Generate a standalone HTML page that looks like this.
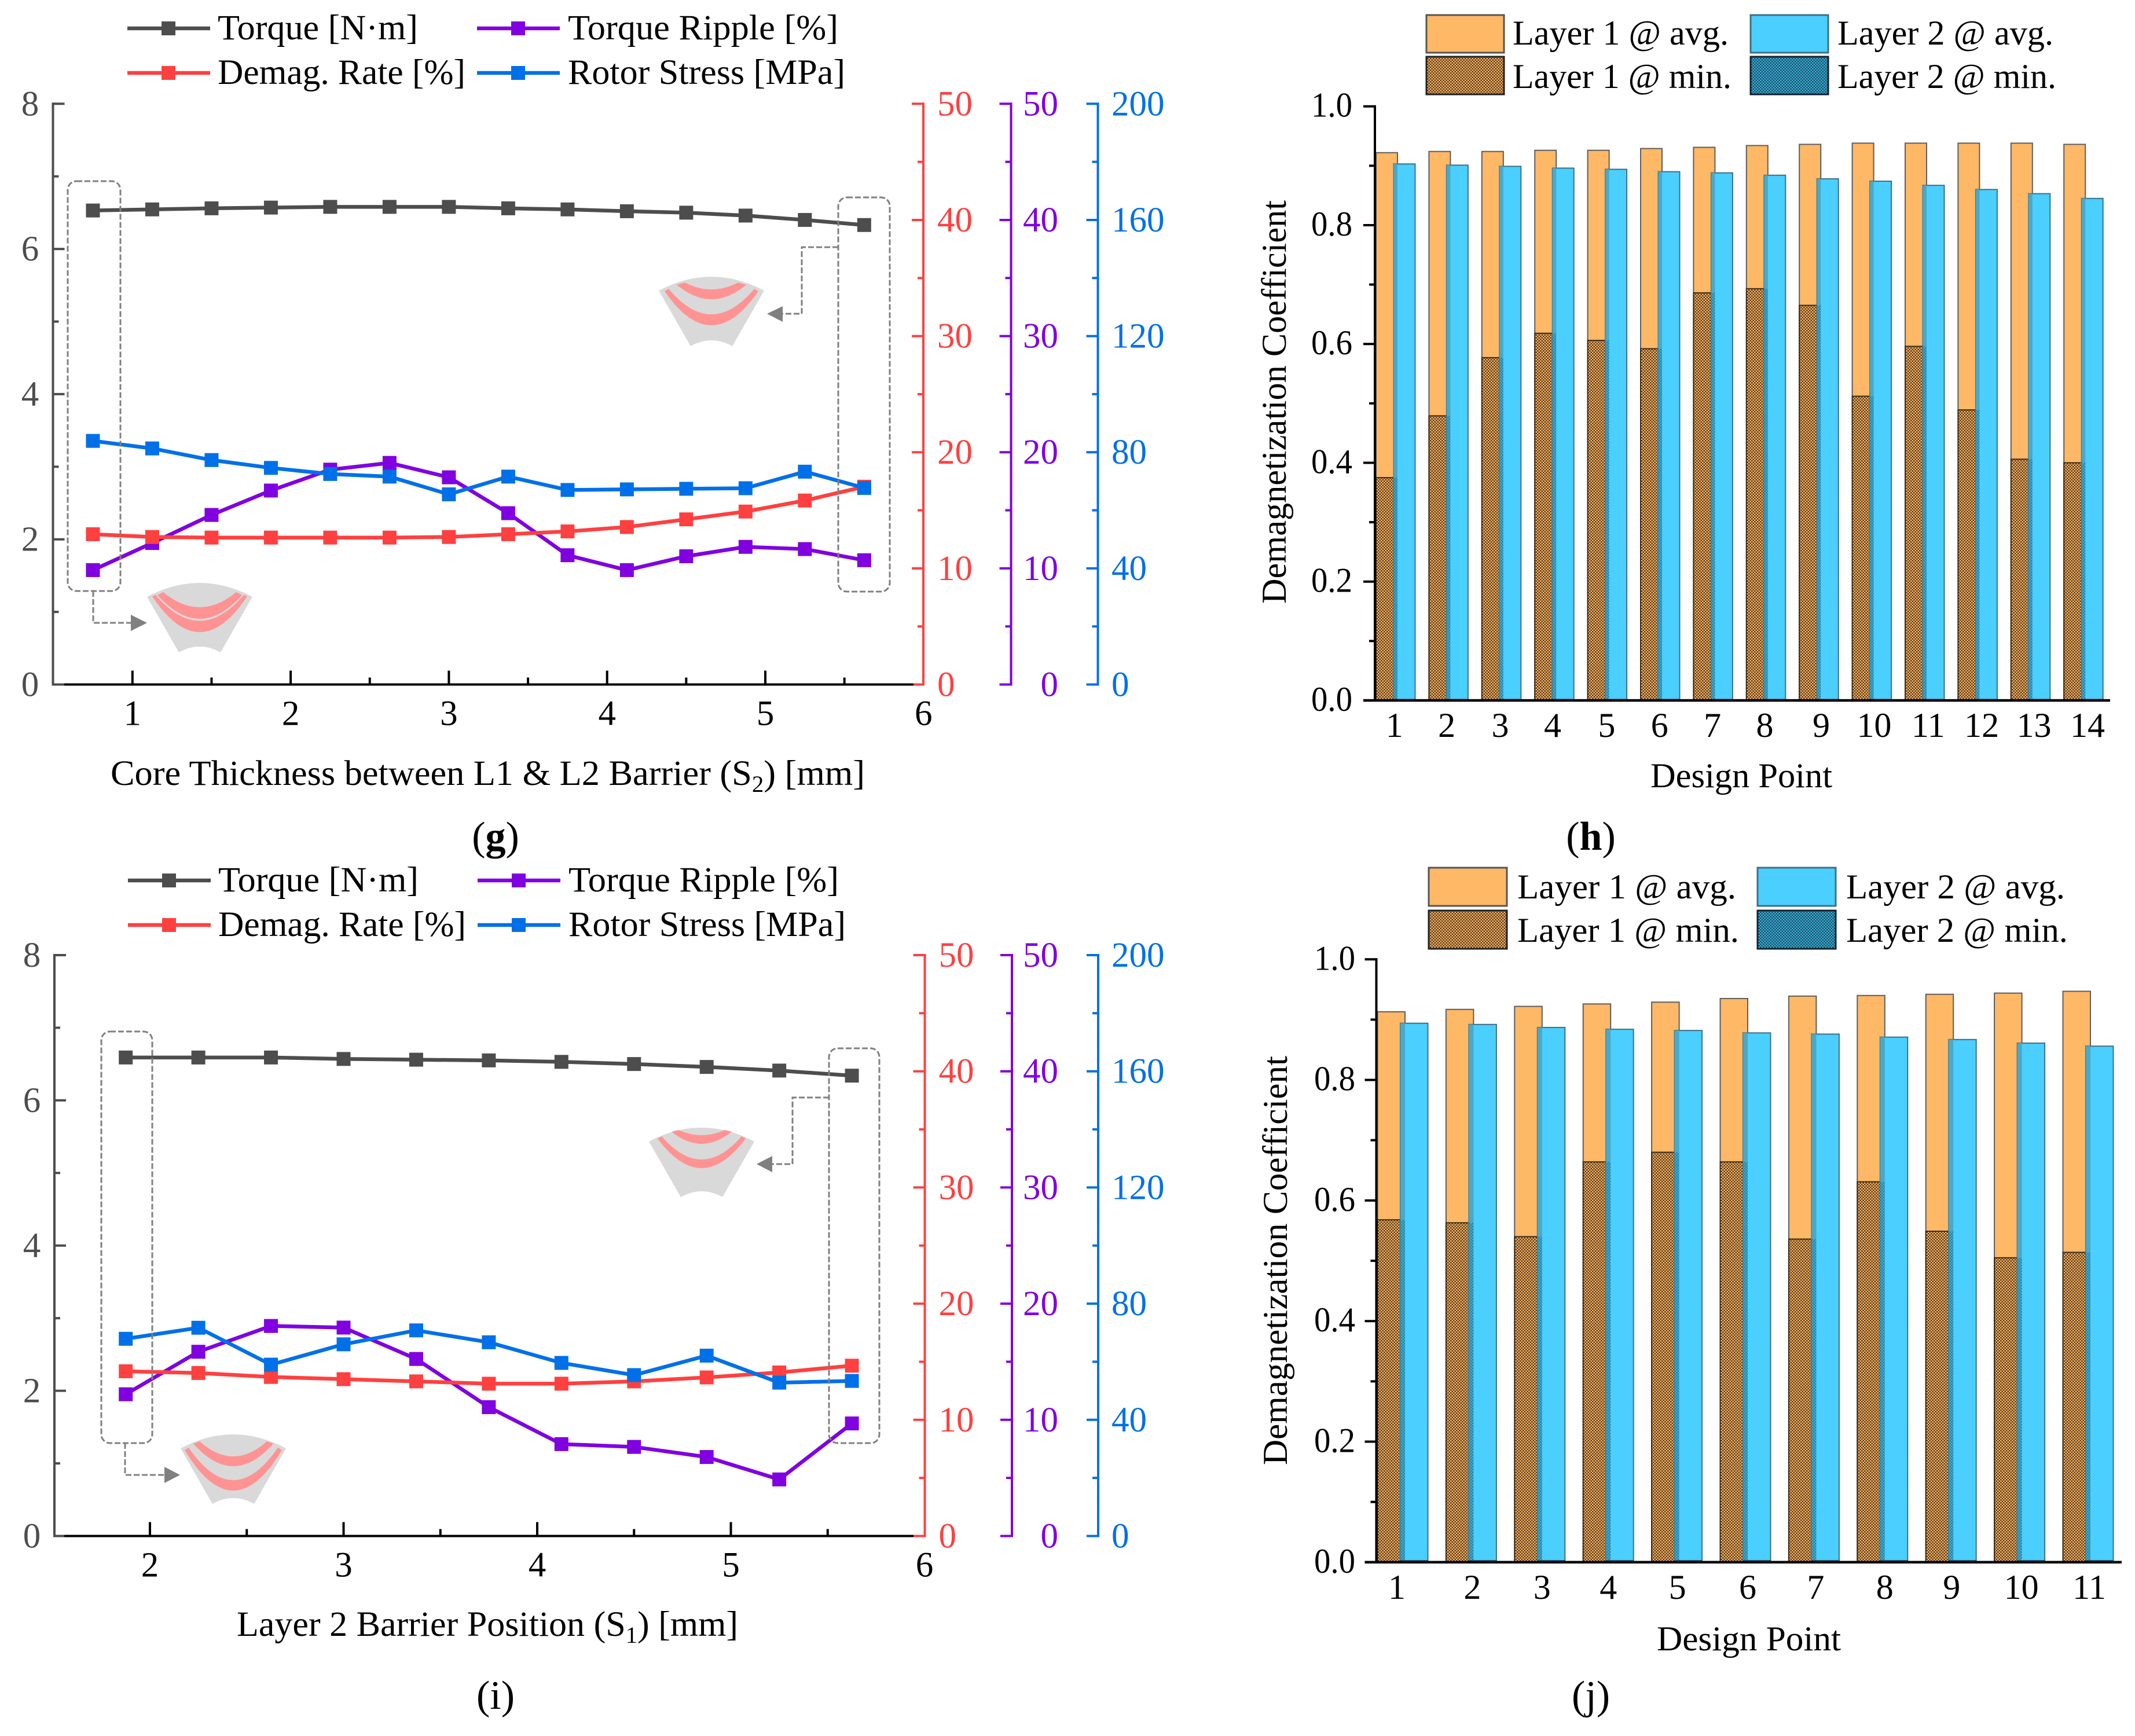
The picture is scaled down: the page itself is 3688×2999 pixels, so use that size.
<!DOCTYPE html>
<html lang="en">
<head>
<meta charset="utf-8">
<title>Demagnetization charts</title>
<style>
html,body{margin:0;padding:0;background:#fff;}
svg{display:block;}
text{font-family:"Liberation Serif",serif;fill:#000;}
</style>
</head>
<body>
<svg id="figure" xmlns="http://www.w3.org/2000/svg" width="3688" height="2999" viewBox="0 0 3688 2999">
  <defs>
    <pattern id="brown-check" width="5" height="5" patternUnits="userSpaceOnUse">
      <rect width="5" height="5" fill="#ffb866"/>
      <rect width="2.5" height="2.5" fill="#54391a"/>
      <rect x="2.5" y="2.5" width="2.5" height="2.5" fill="#54391a"/>
    </pattern>
    <pattern id="blue-check" width="5" height="5" patternUnits="userSpaceOnUse">
      <rect width="5" height="5" fill="#3cb4dc"/>
      <rect width="2.5" height="2.5" fill="#174a60"/>
      <rect x="2.5" y="2.5" width="2.5" height="2.5" fill="#174a60"/>
    </pattern>
    <pattern id="overlap-check" width="5" height="5" patternUnits="userSpaceOnUse">
      <rect width="5" height="5" fill="#3fb0d6"/>
      <rect width="2.5" height="2.5" fill="#2a7f9e"/>
      <rect x="2.5" y="2.5" width="2.5" height="2.5" fill="#2a7f9e"/>
    </pattern>
  </defs>

  <g id="chart-g"></g>
  <g id="chart-i"></g>
  <g id="chart-h"></g>
  <g id="chart-j"></g>

  <!-- annotations panel g -->
  <g fill="none" stroke="#808080" stroke-width="3" stroke-dasharray="10 4">
    <rect x="117" y="313" width="91" height="708" rx="15"/>
    <rect x="1448" y="341" width="89" height="681" rx="15"/>
    <polyline points="161,1021 161,1076 228,1076"/>
    <polyline points="1448,427 1385,427 1385,542 1350,542"/>
  </g>
  <polygon points="226,1062 254,1076 226,1090" fill="#808080"/>
  <polygon points="1352,529 1325,542 1352,556" fill="#808080"/>
  <g transform="translate(345 1007)">
    <path d="M-91 24Q0 -24 91 24L36 120Q0 100 -36 120Z" fill="#d9d9d9"/>
    <path d="M-73 21L-63 16Q0 68 63 16L73 21Q0 103 -73 21Z" fill="#ff9393"/>
    <path d="M-82 23L-76 21Q0 110 76 21L82 23Q0 147 -82 23Z" fill="#ff9393"/>
  </g>
  <g transform="translate(1229 478)">
    <path d="M-91 24Q0 -24 91 24L36 120Q0 100 -36 120Z" fill="#d9d9d9"/>
    <path d="M-60 14L-46 10Q0 34 46 10L60 14Q0 64 -60 14Z" fill="#ff9393"/>
    <path d="M-81 25L-74 21Q0 109 74 21L81 25Q0 143 -81 25Z" fill="#ff9393"/>
  </g>

  <!-- annotations panel i -->
  <g fill="none" stroke="#808080" stroke-width="3" stroke-dasharray="10 4">
    <rect x="175" y="1782" width="88" height="711" rx="15"/>
    <rect x="1432" y="1811" width="87" height="682" rx="15"/>
    <polyline points="216,2493 216,2548 286,2548"/>
    <polyline points="1432,1896 1369,1896 1369,2011 1332,2011"/>
  </g>
  <polygon points="284,2534 311,2548 284,2562" fill="#808080"/>
  <polygon points="1334,1997 1307,2011 1334,2025" fill="#808080"/>
  <g transform="translate(403 2478)">
    <path d="M-91 24Q0 -24 91 24L36 120Q0 100 -36 120Z" fill="#d9d9d9"/>
    <path d="M-69 16L-58 12Q0 64 58 12L69 16Q0 94 -69 16Z" fill="#ff9393"/>
    <path d="M-84 27L-77 23Q0 135 77 23L84 27Q0 167 -84 27Z" fill="#ff9393"/>
  </g>
  <g transform="translate(1212 1948)">
    <path d="M-91 24Q0 -24 91 24L36 120Q0 100 -36 120Z" fill="#d9d9d9"/>
    <path d="M-52 7L-40 4Q0 22 40 4L52 7Q0 49 -52 7Z" fill="#ff9393"/>
    <path d="M-76 19L-69 15Q0 95 69 15L76 19Q0 121 -76 19Z" fill="#ff9393"/>
  </g>

  <!-- axis titles and panel labels -->
  <text x="191" y="1356" font-size="61" textLength="1303" lengthAdjust="spacingAndGlyphs">Core Thickness between L1 &amp; L2 Barrier (S<tspan font-size="40" dy="12">2</tspan><tspan dy="-12">) [mm]</tspan></text>
  <text x="856" y="1468" font-size="70" text-anchor="middle">(<tspan font-weight="bold">g</tspan>)</text>
  <text x="409" y="2826" font-size="61" textLength="866" lengthAdjust="spacingAndGlyphs">Layer 2 Barrier Position (S<tspan font-size="40" dy="12">1</tspan><tspan dy="-12">) [mm]</tspan></text>
  <text x="856" y="2952" font-size="70" text-anchor="middle">(i)</text>
  <text transform="translate(2221 1043) rotate(-90)" font-size="60" textLength="697" lengthAdjust="spacingAndGlyphs">Demagnetization Coefficient</text>
  <text x="2851" y="1360" font-size="60" textLength="314" lengthAdjust="spacingAndGlyphs">Design Point</text>
  <text x="2748" y="1468" font-size="70" text-anchor="middle">(<tspan font-weight="bold">h</tspan>)</text>
  <text transform="translate(2223 2531) rotate(-90)" font-size="60" textLength="707" lengthAdjust="spacingAndGlyphs">Demagnetization Coefficient</text>
  <text x="2862" y="2851" font-size="60" textLength="318" lengthAdjust="spacingAndGlyphs">Design Point</text>
  <text x="2748" y="2952" font-size="70" text-anchor="middle">(j)</text>
</svg>

<script>
// ---------- shared tick labels ----------
const torqueTickLabels = ['0', '2', '4', '6', '8'];
const demagTickLabels = ['0', '10', '20', '30', '40', '50'];
const rippleTickLabels = ['0', '10', '20', '30', '40', '50'];
const stressTickLabels = ['0', '40', '80', '120', '160', '200'];
const coefficientTickLabels = ['0.0', '0.2', '0.4', '0.6', '0.8', '1.0'];

// ---------- panel g ----------
const gThickness = [0.75, 1.125, 1.5, 1.875, 2.25, 2.625, 3, 3.375, 3.75, 4.125, 4.5, 4.875, 5.25, 5.625];
const gTorque = [6.53, 6.545, 6.56, 6.57, 6.58, 6.58, 6.58, 6.56, 6.545, 6.52, 6.50, 6.46, 6.40, 6.33];
const gRipple = [9.85, 12.18, 14.6, 16.7, 18.5, 19.08, 17.84, 14.75, 11.13, 9.85, 11.04, 11.85, 11.66, 10.7];
const gDemag = [12.94, 12.7, 12.65, 12.65, 12.65, 12.65, 12.7, 12.94, 13.18, 13.56, 14.22, 14.89, 15.84, 17.03];
const gStress = [83.9, 81.3, 77.3, 74.6, 72.5, 71.6, 65.5, 71.6, 67, 67.2, 67.4, 67.6, 73.3, 67.7];
const gXTicks = ['1', '2', '3', '4', '5', '6'];

// ---------- panel i ----------
const iPosition = [1.875, 2.25, 2.625, 3, 3.375, 3.75, 4.125, 4.5, 4.875, 5.25, 5.625];
const iTorque = [6.59, 6.59, 6.59, 6.57, 6.56, 6.55, 6.53, 6.5, 6.46, 6.41, 6.34];
const iRipple = [12.2, 15.86, 18.08, 17.94, 15.24, 11.09, 7.91, 7.67, 6.8, 4.87, 9.69];
const iDemag = [14.18, 14.03, 13.69, 13.5, 13.31, 13.11, 13.11, 13.31, 13.65, 14.08, 14.66];
const iStress = [67.9, 71.7, 59, 66, 70.8, 66.7, 59.6, 55.4, 62.1, 52.8, 53.4];
const iXTicks = ['2', '3', '4', '5', '6'];

// ---------- panel h ----------
const hPoints = ['1', '2', '3', '4', '5', '6', '7', '8', '9', '10', '11', '12', '13', '14'];
const hLayer1Avg = [.922, .924, .924, .926, .926, .929, .931, .934, .936, .938, .938, .938, .938, .936];
const hLayer1Min = [.375, .479, .577, .618, .606, .592, .686, .693, .665, .512, .596, .489, .406, .400];
const hLayer2Avg = [.903, .901, .899, .896, .894, .890, .888, .884, .878, .874, .867, .860, .853, .845];
const hLayer2Min = [.002, .002, .002, .002, .002, .002, .002, .002, .002, .002, .002, .002, .002, .002];

// ---------- panel j ----------
const jPoints = ['1', '2', '3', '4', '5', '6', '7', '8', '9', '10', '11'];
const jLayer1Avg = [.913, .917, .922, .926, .929, .935, .939, .940, .942, .944, .947];
const jLayer1Min = [.568, .563, .540, .664, .680, .664, .536, .631, .549, .505, .514];
const jLayer2Avg = [.894, .892, .887, .884, .882, .878, .876, .871, .867, .861, .856];
const jLayer2Min = [.003, .003, .003, .003, .003, .003, .003, .003, .003, .003, .003];

// ---------- colours ----------
const GREY = '#4d4d4d', RED = '#ff4040', PURPLE = '#8000e0', BLUE = '#0070e8';
const NS = 'http://www.w3.org/2000/svg';

function mk(tag, attrs, parent, txt) {
  const el = document.createElementNS(NS, tag);
  for (const k in attrs) el.setAttribute(k, attrs[k]);
  if (txt !== undefined) el.textContent = txt;
  parent.appendChild(el);
  return el;
}

function verticalAxis(parent, key, cfg, labels) {
  const n = labels.length - 1;
  const axis = mk('line', {x1: cfg.x, x2: cfg.x, y1: cfg.yTop - 2, y2: cfg.yBottom + 2, stroke: cfg.color, 'stroke-width': 4}, parent);
  
  
  const steps = n * 2;
  for (let s = 0; s <= steps; s++) {
    const y = cfg.yBottom + (cfg.yTop - cfg.yBottom) * s / steps;
    const isMajor = s % 2 === 0;
    const len = isMajor ? 20 : 10;
    const tick = mk('line', {x1: cfg.x, x2: cfg.x + cfg.dir * len, y1: y, y2: y, stroke: cfg.color, 'stroke-width': 4}, parent);
    
    
    if (isMajor) {
      const attrs = {x: cfg.labelX, y: y + cfg.labelDy, 'font-size': cfg.fontSize, 'text-anchor': cfg.anchor, style: 'fill:' + cfg.color};
      if (cfg.textLength) { attrs.textLength = cfg.textLength; attrs.lengthAdjust = 'spacingAndGlyphs'; }
      const label = mk('text', attrs, parent, labels[s / 2]);
      
      
    }
  }
}

function lineSeries(parent, key, xs, ys, color, sx, sy) {
  const pts = xs.map((x, i) => sx(x) + ',' + sy(ys[i])).join(' ');
  const line = mk('polyline', {points: pts, fill: 'none', stroke: color, 'stroke-width': 6.5}, parent);
  
  
  xs.forEach((x, i) => {
    const m = mk('rect', {x: sx(x) - 12, y: sy(ys[i]) - 12, width: 24, height: 24, fill: color}, parent);
    
    
  });
}

function lineLegend(parent, yA, yB, dx) {
  const entries = [
    ['Torque [N·m]', GREY, 220, yA, 376, 346, 'legend-torque'],
    ['Demag. Rate [%]', RED, 220, yB, 376, 428, 'legend-demag-rate'],
    ['Torque Ripple [%]', PURPLE, 824, yA, 981, 467, 'legend-torque-ripple'],
    ['Rotor Stress [MPa]', BLUE, 824, yB, 981, 479, 'legend-rotor-stress']
  ];
  entries.forEach(e => {
    const l = mk('line', {x1: e[2] + dx, x2: e[2] + 143 + dx, y1: e[3], y2: e[3], stroke: e[1], 'stroke-width': 6.5}, parent);
    
    
    const m = mk('rect', {x: e[2] + 59 + dx, y: e[3] - 12, width: 24, height: 24, fill: e[1]}, parent);
    
    
    const t = mk('text', {x: e[4] + dx, y: e[3] + 19, 'font-size': 61, textLength: e[5], lengthAdjust: 'spacingAndGlyphs'}, parent, e[0]);
    
    
  });
}

function drawLineChart(id, c, xs, torque, ripple, demag, stress, xTicks, minX, key) {
  const g = document.getElementById(id);
  const sx = v => c.x1 + (v - minX) * c.xUnit;
  const yFor = max => v => c.y0 + (c.yTop - c.y0) * v / max;

  verticalAxis(g, key + '-torque', {x: c.leftX, yTop: c.yTop, yBottom: c.y0, color: GREY, dir: 1, anchor: 'middle', labelX: c.leftLabelX, fontSize: 61, labelDy: 20}, torqueTickLabels);
  verticalAxis(g, key + '-demag', {x: c.redX, yTop: c.yTop, yBottom: c.y0, color: RED, dir: -1, anchor: 'start', labelX: c.redX + 24, fontSize: 61, labelDy: 20}, demagTickLabels);
  verticalAxis(g, key + '-ripple', {x: c.purpleX, yTop: c.yTop, yBottom: c.y0, color: PURPLE, dir: -1, anchor: 'end', labelX: 1828, fontSize: 61, labelDy: 20}, rippleTickLabels);
  verticalAxis(g, key + '-stress', {x: c.blueX, yTop: c.yTop, yBottom: c.y0, color: BLUE, dir: -1, anchor: 'start', labelX: 1920, fontSize: 61, labelDy: 20}, stressTickLabels);

  const xAxis = mk('line', {x1: 111, x2: 1578, y1: c.y0, y2: c.y0, stroke: '#000', 'stroke-width': 4}, g);
  
  
  xTicks.forEach((lab, i) => {
    const v = Number(lab);
    if (i < xTicks.length - 1) {
      const t = mk('line', {x1: sx(v), x2: sx(v), y1: c.y0, y2: c.y0 - 24, stroke: '#000', 'stroke-width': 4}, g);
      
      
      const mt = mk('line', {x1: sx(v + 0.5), x2: sx(v + 0.5), y1: c.y0, y2: c.y0 - 12, stroke: '#000', 'stroke-width': 4}, g);
      
      
    }
    const tx = mk('text', {x: sx(v), y: c.y0 + 70, 'font-size': 61, 'text-anchor': 'middle'}, g, lab);
    
    
  });

  lineSeries(g, key + '-torque', xs, torque, GREY, sx, yFor(8));
  lineSeries(g, key + '-ripple', xs, ripple, PURPLE, sx, yFor(50));
  lineSeries(g, key + '-demag', xs, demag, RED, sx, yFor(50));
  lineSeries(g, key + '-stress', xs, stress, BLUE, sx, yFor(200));
  lineLegend(g, c.legendA, c.legendB, c.legendDx);
}

function swatch(parent, name, x, y, w, h, fill, stroke) {
  const s = mk('rect', {x: x, y: y, width: w, height: h, fill: fill, stroke: stroke, 'stroke-width': 3}, parent);
  
  
}

function drawBarChart(id, c, labels, avg1, min1, avg2, min2, key) {
  const g = document.getElementById(id);
  const sy = v => c.y0 + (c.yTop - c.y0) * v;

  labels.forEach((lab, i) => {
    const xA = c.x0 + i * c.step;
    const xB = xA + c.w - c.overlap;
    const oBar = mk('rect', {x: xA, y: sy(avg1[i]), width: c.w, height: c.y0 - sy(avg1[i]), fill: '#ffb866', stroke: '#5e5e5e', 'stroke-width': 2}, g);
    
    
    const mBar = mk('rect', {x: xA, y: sy(min1[i]), width: c.w, height: c.y0 - sy(min1[i]), fill: 'url(#brown-check)', stroke: '#3a2a14', 'stroke-width': 2}, g);
    
    
    const bBar = mk('rect', {x: xB, y: sy(avg2[i]), width: c.w, height: c.y0 - sy(avg2[i]), fill: '#4acfff', stroke: '#3f6f85', 'stroke-width': 2}, g);
    
    
    const lowAvg = Math.min(avg1[i], avg2[i]);
    const stripA = mk('rect', {x: xB, y: sy(lowAvg), width: c.overlap, height: sy(min1[i]) - sy(lowAvg), fill: '#4aa9c6'}, g);
    
    
    const stripB = mk('rect', {x: xB, y: sy(min1[i]), width: c.overlap, height: c.y0 - sy(min1[i]), fill: 'url(#overlap-check)'}, g);
    
    
    const b2Min = mk('rect', {x: xB, y: sy(min2[i]), width: c.w, height: c.y0 - sy(min2[i]), fill: 'url(#blue-check)', stroke: '#174a60', 'stroke-width': 1}, g);
    
    
    const t = mk('text', {x: xA + c.w - c.overlap / 2 + c.labelNudge[i], y: c.y0 + 63, 'font-size': 60, 'text-anchor': 'middle'}, g, lab);
    
    
  });

  verticalAxis(g, key + '-coefficient', {x: c.axisX, yTop: c.yTop, yBottom: c.y0, color: '#000', dir: -1, anchor: 'end', labelX: c.labelX, fontSize: 60, textLength: 71, labelDy: 18}, coefficientTickLabels);
  const xAxis = mk('line', {x1: c.axisX - 20, x2: c.axisEnd, y1: c.y0, y2: c.y0, stroke: '#000', 'stroke-width': 4.5}, g);
  
  

  const L = c.legend;
  swatch(g, key + '-legend-layer1-avg', L.x1, L.y1, L.w, L.h, '#ffb866', '#555');
  swatch(g, key + '-legend-layer1-min', L.x1, L.y2, L.w, L.h, 'url(#brown-check)', '#222');
  swatch(g, key + '-legend-layer2-avg', L.x2, L.y1, L.w, L.h, '#4acfff', '#3f6f85');
  swatch(g, key + '-legend-layer2-min', L.x2, L.y2, L.w, L.h, 'url(#blue-check)', '#123');
  const entries = [
    ['Layer 1 @ avg.', L.tx1, L.b1, L.wAvg],
    ['Layer 1 @ min.', L.tx1, L.b2, L.wMin],
    ['Layer 2 @ avg.', L.tx2, L.b1, L.wAvg],
    ['Layer 2 @ min.', L.tx2, L.b2, L.wMin]
  ];
  entries.forEach(e => {
    const t = mk('text', {x: e[1], y: e[2], 'font-size': 60, textLength: e[3], lengthAdjust: 'spacingAndGlyphs'}, g, e[0]);
    
    
  });
}

drawLineChart('chart-g', {
  x1: 228.8, xUnit: 273.3, yTop: 179.3, y0: 1182.5, leftX: 91.5, leftLabelX: 52,
  redX: 1595, purpleX: 1746.5, blueX: 1896.5, legendA: 49, legendB: 126, legendDx: 0
}, gThickness, gTorque, gRipple, gDemag, gStress, gXTicks, 1, 'g');

drawLineChart('chart-i', {
  x1: 259, xUnit: 334.5, yTop: 1650, y0: 2653.5, leftX: 94, leftLabelX: 55,
  redX: 1597.5, purpleX: 1748, blueX: 1897, legendA: 1521, legendB: 1598, legendDx: 1
}, iPosition, iTorque, iRipple, iDemag, iStress, iXTicks, 2, 'i');

drawBarChart('chart-h', {
  x0: 2377, step: 91.4, w: 37, overlap: 6.5, yTop: 183.7, y0: 1210, axisX: 2375, axisEnd: 3645, labelX: 2336,
  labelNudge: [-2, -3, -2, -3, -1, -1, -1, -2, 4, 4, 6, 7, 6, 7],
  legend: {x1: 2464, x2: 3024, y1: 26, y2: 98, w: 134, h: 65, tx1: 2613, tx2: 3174, b1: 77, b2: 152, wAvg: 373, wMin: 378}
}, hPoints, hLayer1Avg, hLayer1Min, hLayer2Avg, hLayer2Min, 'h');

drawBarChart('chart-j', {
  x0: 2379.5, step: 118.4, w: 47.5, overlap: 8, yTop: 1657.3, y0: 2698.8, axisX: 2377.5, axisEnd: 3665, labelX: 2341,
  labelNudge: [-10, 2, 4, 0, 1, 4, 3, 4, 1, 3, 2],
  legend: {x1: 2468, x2: 3036, y1: 1499, y2: 1573, w: 135, h: 66, tx1: 2621, tx2: 3189, b1: 1552, b2: 1627, wAvg: 378, wMin: 383}
}, jPoints, jLayer1Avg, jLayer1Min, jLayer2Avg, jLayer2Min, 'j');
</script>
</body>
</html>
